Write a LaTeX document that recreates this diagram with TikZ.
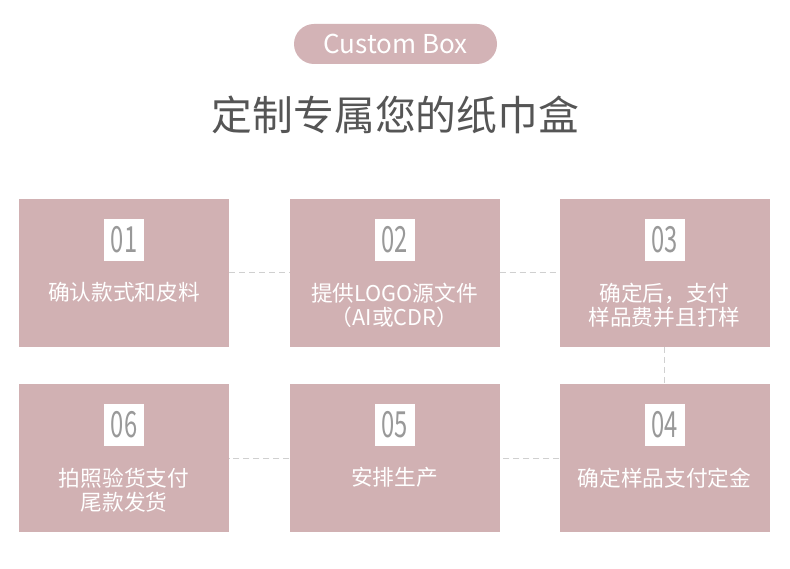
\documentclass[tikz,border=0pt]{standalone}
\usepackage{fontspec}
\setmainfont{Noto Sans CJK SC}
\usetikzlibrary{positioning}
\definecolor{boxc}{HTML}{D1B1B3}
\definecolor{pillc}{HTML}{D3B3B6}
\definecolor{titlec}{HTML}{555555}
\definecolor{numc}{HTML}{999999}
\definecolor{dashc}{HTML}{D0D0D0}
\tikzset{
  stepbox/.style={fill=boxc, draw=none, minimum width=210pt, minimum height=148pt, inner sep=0pt},
  numbox/.style={fill=white, draw=none, minimum width=40pt, minimum height=42pt, inner sep=0pt, text=numc, font=\fontsize{36}{36}\selectfont},
  steptext/.style={anchor=north, align=center, text=white, inner sep=0pt, font=\fontsize{21.7}{24.5}\selectfont},
  conn/.style={draw=dashc, line width=1pt, dash pattern=on 6pt off 4pt},
}
\newcommand{\numtxt}[1]{\scalebox{0.66}[1]{#1}}
\begin{document}
\begin{tikzpicture}[x=1pt,y=1pt]
\useasboundingbox (0,0) rectangle (790,-569);
\fill[white] (0,0) rectangle (790,-569);
% header
\node[fill=pillc, rounded corners=20pt, minimum width=203pt, minimum height=40pt, text=white, font=\fontsize{26}{26}\selectfont, inner sep=0pt] (pill) at (395.5,-44) {Custom Box};
\node[text=titlec, font=\fontsize{40.8}{40.8}\selectfont, inner sep=0pt] (title) at (395.5,-115) {定制专属您的纸巾盒};
% boxes
\node[stepbox] (b1) at (124,-273) {};
\node[stepbox] (b2) at (394.5,-273) {};
\node[stepbox] (b3) at (664.5,-273) {};
\node[stepbox] (b6) at (124,-458) {};
\node[stepbox] (b5) at (394.5,-458) {};
\node[stepbox] (b4) at (664.5,-458) {};
% numbers
\node[numbox] (n1) at (124,-240) {\numtxt{01}};
\node[numbox] (n2) at (394.5,-240) {\numtxt{02}};
\node[numbox] (n3) at (664.5,-240) {\numtxt{03}};
\node[numbox] (n6) at (124,-425) {\numtxt{06}};
\node[numbox] (n5) at (394.5,-425) {\numtxt{05}};
\node[numbox] (n4) at (664.5,-425) {\numtxt{04}};
% texts
\node[steptext] (t1) at (124,-282.5) {确认款式和皮料};
\node[steptext] (t2) at (394.5,-282.5) {提供LOGO源文件\\（AI或CDR）};
\node[steptext] (t3) at (664.5,-282.5) {确定后，支付\\样品费并且打样};
\node[steptext] (t6) at (124,-467.5) {拍照验货支付\\尾款发货};
\node[steptext] (t5) at (394.5,-467.5) {安排生产};
\node[steptext] (t4) at (664.5,-467.5) {确定样品支付定金};
% connectors
\draw[conn] (b1.east) -- (b2.west);
\draw[conn] (b2.east) -- (b3.west);
\draw[conn] (b3.south) -- (b4.north);
\draw[conn] (b4.west) -- (b5.east);
\draw[conn] (b5.west) -- (b6.east);
\end{tikzpicture}
\end{document}
